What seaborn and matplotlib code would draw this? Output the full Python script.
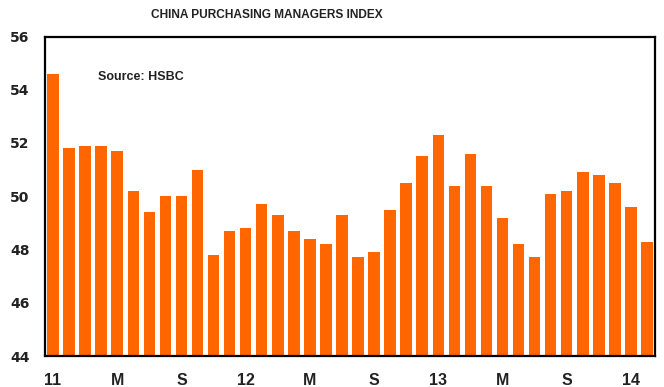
import matplotlib
matplotlib.use("Agg")
import matplotlib.pyplot as plt
from matplotlib import font_manager
import seaborn as sns
import pandas as pd
import numpy as np

months = ["Jan 11", "Feb 11", "Mar 11", "Apr 11", "May 11", "Jun 11", "Jul 11", "Aug 11",
          "Sep 11", "Oct 11", "Nov 11", "Dec 11",
          "Jan 12", "Feb 12", "Mar 12", "Apr 12", "May 12", "Jun 12", "Jul 12", "Aug 12",
          "Sep 12", "Oct 12", "Nov 12", "Dec 12",
          "Jan 13", "Feb 13", "Mar 13", "Apr 13", "May 13", "Jun 13", "Jul 13", "Aug 13",
          "Sep 13", "Oct 13", "Nov 13", "Dec 13",
          "Jan 14", "Feb 14"]
pmi = [54.6, 51.8, 51.9, 51.9, 51.7, 50.2, 49.4, 50.0, 50.0, 51.0, 47.8, 48.7,
       48.8, 49.7, 49.3, 48.7, 48.4, 48.2, 49.3, 47.7, 47.9, 49.5, 50.5, 51.5,
       52.3, 50.4, 51.6, 50.4, 49.2, 48.2, 47.7, 50.1, 50.2, 50.9, 50.8, 50.5,
       49.6, 48.3]
tick_labels = ["11", "M", "S", "12", "M", "S", "13", "M", "S", "14"]

sns.set_theme(style="white")
plt.rcParams["font.family"] = ["Liberation Sans", "DejaVu Sans"]

installed = {f.name for f in font_manager.fontManager.ttflist}
if "Liberation Sans Narrow" in installed:
    title_family, title_size = ["Liberation Sans Narrow", "DejaVu Sans"], 10.5
else:
    title_family, title_size = ["Liberation Sans", "DejaVu Sans"], 8.6

df = pd.DataFrame({"month": months, "pmi": pmi})

fig = plt.figure(figsize=(6.64, 3.87), dpi=100)
ax = fig.add_axes([45/664, 31/387, 610/664, (356-36.5)/387])

sns.barplot(data=df, x="month", y="pmi", color="#FF6600", saturation=1,
            width=0.72, ax=ax, edgecolor="none")

ax.set_ylim(44, 56)
ax.set_xlim(-0.5, len(months) - 0.5)
ax.set_yticks(np.arange(44, 57, 2))
ax.set_yticklabels([str(v) for v in range(44, 57, 2)], fontsize=10,
                   fontweight="bold", family=["DejaVu Sans"], color="#222222")

n_ticks = len(tick_labels)
ax.set_xticks([4 * i - 0.5 for i in range(n_ticks)])
ax.set_xticklabels([""] * n_ticks)
ax.set_xticks([4 * i for i in range(n_ticks)], minor=True)
ax.set_xticklabels(tick_labels, minor=True, fontsize=11.5, fontweight="bold", color="#222222")
ax.tick_params(axis="x", which="major", length=4, width=1.5, direction="out", color="black")
ax.tick_params(axis="x", which="minor", length=0, pad=12)
ax.tick_params(axis="y", which="major", length=6, width=1.2, direction="out", color="black", pad=5)
ax.set_xlabel("")
ax.set_ylabel("")

for s in ax.spines.values():
    s.set_visible(True)
    s.set_color("black")
    s.set_linewidth(1.6)

ax.text(0.087, 0.872, "Source: HSBC", transform=ax.transAxes, fontsize=9,
        fontweight="bold", color="#222222", va="center")
fig.text(0.402, 0.961, "CHINA PURCHASING MANAGERS INDEX", fontsize=title_size,
         family=title_family, fontweight="bold", ha="center", va="center", color="#222222")

fig.savefig("out.png", dpi=100)
